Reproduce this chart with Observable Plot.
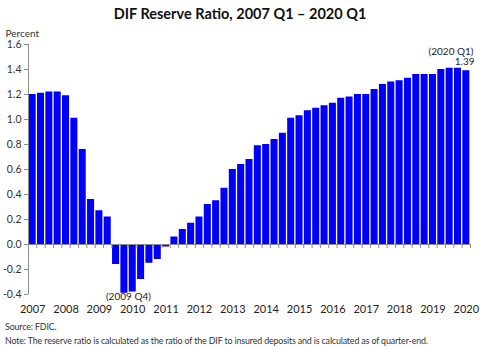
<!DOCTYPE html>
<html><head><meta charset="utf-8">
<script src="https://cdn.jsdelivr.net/npm/d3@7"></script>
<script src="https://cdn.jsdelivr.net/npm/@observablehq/plot@0.6"></script>
<style>
body{margin:0;background:#fff;}
#wrap{position:relative;width:480px;height:349px;font-family:Lato,"Open Sans",sans-serif;color:#222;overflow:hidden;}
#title{position:absolute;left:0;top:5px;width:480px;text-align:center;font-weight:bold;font-size:14.5px;line-height:18px;color:#111;}
#chart{position:absolute;left:0;top:24px;}
.foot{position:absolute;left:5px;font-size:8.9px;letter-spacing:-0.15px;line-height:12px;color:#333;white-space:nowrap;}
</style></head><body>
<div id="wrap">
<div id="title">DIF Reserve Ratio, 2007 Q1 – 2020 Q1</div>
<div id="chart"></div>
<div class="foot" style="top:321px">Source: FDIC.</div>
<div class="foot" style="top:335px">Note: The reserve ratio is calculated as the ratio of the DIF to insured deposits and is calculated as of quarter-end.</div>
</div>
<script>
const years = ["2007","2008","2009","2010","2011","2012","2013","2014","2015","2016","2017","2018","2019","2020"];
const quarterNames = ["Q1","Q2","Q3","Q4"];
const reserveRatio = [
  1.20, 1.21, 1.22, 1.22,
  1.19, 1.01, 0.76, 0.36,
  0.27, 0.22, -0.16, -0.39,
  -0.38, -0.28, -0.15, -0.12,
  -0.02, 0.06, 0.12, 0.17,
  0.22, 0.32, 0.35, 0.45,
  0.60, 0.64, 0.68, 0.79,
  0.80, 0.84, 0.89, 1.01,
  1.03, 1.07, 1.09, 1.11,
  1.13, 1.17, 1.18, 1.20,
  1.20, 1.24, 1.28, 1.30,
  1.31, 1.33, 1.36, 1.36,
  1.36, 1.40, 1.41, 1.41,
  1.39
];
const yTicks = [-0.4, -0.2, 0, 0.2, 0.4, 0.6, 0.8, 1.0, 1.2, 1.4, 1.6];

const rows = reserveRatio.map((v, i) => ({
  i, v, year: years[Math.floor(i / 4)], q: quarterNames[i % 4]
}));
const yearRows = rows.filter(d => d.q === "Q1");
const lowPoint = rows.reduce((a, b) => (b.v < a.v ? b : a));
const lastPoint = rows[rows.length - 1];
const axisGray = "#8c8c8c";

const chart = Plot.plot({
  width: 480,
  height: 296,
  marginLeft: 28,
  marginRight: 10,
  marginTop: 20,
  marginBottom: 26,
  style: {fontFamily: "Lato, 'Open Sans', sans-serif", fontSize: "10.5px", color: "#333", background: "white"},
  x: {type: "linear", domain: [0, rows.length], axis: null},
  y: {domain: [-0.4, 1.6], axis: null},
  marks: [
    Plot.rectY(rows, {x1: "i", x2: d => d.i + 1, y: "v", fill: "#0000f8", insetLeft: 0.65, insetRight: 0.65}),
    Plot.ruleY([0], {stroke: axisGray}),
    Plot.ruleX(d3.range(rows.length + 1), {x: d => d, y1: 0, y2: 0, insetBottom: -4, stroke: axisGray}),
    Plot.ruleX([0], {y1: yTicks[0], y2: yTicks[yTicks.length - 1], stroke: axisGray}),
    Plot.axisY({ticks: yTicks, label: null, tickSize: 4, tickPadding: 3, tickFormat: d => d.toFixed(1), stroke: axisGray, fill: "#333", fontSize: 10.5}),
    Plot.text(yearRows, {x: d => d.i + 0.5, text: "year", frameAnchor: "bottom", dy: 18.5, fontSize: 11, fill: "#222"}),
    Plot.text(["Percent"], {frameAnchor: "top-left", textAnchor: "start", dx: -23, dy: -15, fontSize: 10, fill: "#333"}),
    Plot.text([lowPoint], {x: d => d.i + 0.5, text: d => `(${d.year} ${d.q})`, frameAnchor: "bottom", dx: 4, dy: 5.5, fontSize: 10, fill: "#222"}),
    Plot.text([lastPoint], {x: d => d.i + 1, y: "v", text: d => `(${d.year} ${d.q})`, textAnchor: "end", dx: 3, dy: -19, fontSize: 10, fill: "#222"}),
    Plot.text([lastPoint], {x: d => d.i + 1, y: "v", text: d => d.v.toFixed(2), textAnchor: "end", dx: 4, dy: -8.5, fontSize: 10, fill: "#222"})
  ]
});
document.getElementById("chart").appendChild(chart);
</script>
</body></html>
